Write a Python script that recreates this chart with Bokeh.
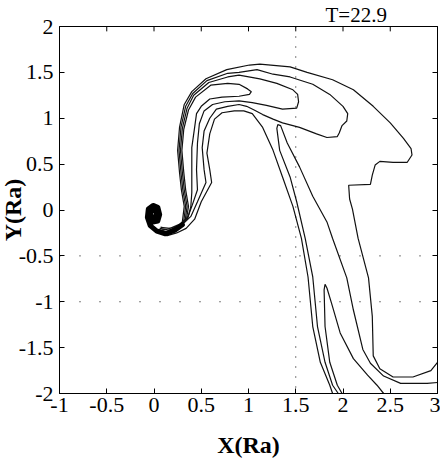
from bokeh.plotting import figure
from bokeh.models import (LinearAxis, FixedTicker, Span, Range1d,
                          CustomJSTickFormatter)
from bokeh.embed import file_html
from bokeh.resources import INLINE

# ---------------- data ----------------
x_ticks = [-1, -0.5, 0, 0.5, 1, 1.5, 2, 2.5, 3]
x_tick_labels = ["-1", "-0.5", "0", "0.5", "1", "1.5", "2", "2.5", "3"]
y_ticks = [-2, -1.5, -1, -0.5, 0, 0.5, 1, 1.5, 2]
y_tick_labels = ["-2", "-1.5", "-1", "-0.5", "0", "0.5", "1", "1.5", "2"]

title_text = "T=22.9"
x_label = "X(Ra)"
y_label = "Y(Ra)"

vline_x = [1.5]
hline_y = [-0.5, -1.0]

# contour A (outermost)
a_x = [0.02, 0.13, 0.23, 0.30, 0.32, 0.29, 0.27, 0.25, 0.27, 0.32, 0.40, 0.55, 0.77, 1.01,
       1.12, 1.44, 1.62, 1.89, 2.11, 2.32, 2.50, 2.64, 2.72, 2.73, 2.68, 2.53, 2.39, 2.34,
       2.31, 2.29, 2.06, 2.07, 2.10, 2.16, 2.27, 2.31, 2.32, 2.39, 2.53, 2.74, 2.93, 3.0]
a_y = [-0.22, -0.26, -0.20, -0.13, 0.04, 0.22, 0.41, 0.65, 0.90, 1.15, 1.29, 1.43, 1.53, 1.58,
       1.59, 1.56, 1.50, 1.42, 1.31, 1.13, 0.95, 0.78, 0.67, 0.60, 0.52, 0.52, 0.53, 0.49,
       0.38, 0.28, 0.27, 0.12, 0.01, -0.31, -0.74, -1.16, -1.59, -1.73, -1.82, -1.82, -1.75, -1.66]

# contour B (big upper lobe, returns on inner side)
b_x = [0.05, 0.15, 0.25, 0.315, 0.335, 0.305, 0.285, 0.265, 0.285, 0.335, 0.41, 0.56, 0.78,
       0.90, 1.09, 1.26, 1.44, 1.68, 1.86, 2.00, 2.05, 2.04, 1.99, 1.96, 1.94, 1.83, 1.72,
       1.54, 1.36, 1.26, 1.15, 1.06, 0.98, 0.90, 0.78, 0.66, 0.59, 0.53, 0.51, 0.53, 0.55,
       0.46, 0.39, 0.30, 0.21, 0.12, 0.04]
b_y = [-0.21, -0.24, -0.19, -0.12, 0.04, 0.22, 0.41, 0.65, 0.90, 1.13, 1.27, 1.41, 1.49,
       1.50, 1.53, 1.48, 1.45, 1.37, 1.26, 1.13, 1.05, 0.97, 0.92, 0.84, 0.80, 0.79, 0.83,
       0.90, 0.95, 0.99, 1.04, 1.09, 1.13, 1.15, 1.13, 1.10, 1.00, 0.86, 0.68, 0.44, 0.30,
       0.09, -0.07, -0.16, -0.21, -0.24, -0.21]

# contour C (middle lobe)
c_x = [0.06, 0.16, 0.26, 0.33, 0.35, 0.32, 0.30, 0.28, 0.30, 0.35, 0.42, 0.58, 0.78,
       0.90, 1.12, 1.30, 1.47, 1.52, 1.53, 1.51, 1.36, 1.19, 1.04, 0.90,
       0.75, 0.62, 0.53, 0.48, 0.46, 0.45, 0.46, 0.40, 0.35, 0.27, 0.18, 0.08]
c_y = [-0.20, -0.22, -0.17, -0.11, 0.04, 0.22, 0.41, 0.65, 0.89, 1.11, 1.25, 1.39, 1.45,
       1.47, 1.43, 1.38, 1.31, 1.26, 1.18, 1.11, 1.10, 1.14, 1.17, 1.19,
       1.18, 1.15, 1.08, 0.94, 0.73, 0.44, 0.22, 0.04, -0.10, -0.18, -0.22, -0.21]

# contour D (small lobe)
d_x = [0.07, 0.17, 0.28, 0.345, 0.365, 0.335, 0.315, 0.295, 0.315, 0.365, 0.44, 0.60, 0.78,
       0.90, 0.99, 1.03, 1.01, 0.90,
       0.72, 0.59, 0.50, 0.45, 0.43, 0.40, 0.40, 0.40, 0.39, 0.36, 0.27, 0.16, 0.07]
d_y = [-0.19, -0.20, -0.15, -0.09, 0.04, 0.22, 0.41, 0.65, 0.88, 1.09, 1.23, 1.36, 1.38,
       1.37, 1.32, 1.29, 1.26, 1.24,
       1.23, 1.21, 1.13, 1.05, 0.90, 0.68, 0.44, 0.19, 0.04, -0.08, -0.17, -0.20, -0.19]

# contour E (inner arc down to the bottom)
e_x = [1.89, 1.86, 1.76, 1.68, 1.63, 1.56, 1.47, 1.36, 1.26, 1.15, 1.04, 0.95, 0.85, 0.72,
       0.64, 0.59, 0.56, 0.59, 0.61, 0.50, 0.43, 0.34, 0.24, 0.14, 0.05]
e_y = [-2.0, -1.91, -1.66, -1.27, -0.73, -0.31, 0.04, 0.36, 0.65, 0.90, 1.05, 1.08, 1.08, 1.06,
       0.99, 0.83, 0.62, 0.44, 0.30, 0.09, -0.10, -0.20, -0.25, -0.28, -0.25]

# contour F (upper fold)
f_x = [1.95, 1.89, 1.81, 1.73, 1.68, 1.60, 1.51, 1.44, 1.33, 1.30, 1.31, 1.34, 1.41, 1.54,
       1.68, 1.83, 1.89, 2.04, 2.11, 2.21, 2.29, 2.43, 2.61, 2.89, 3.0]
f_y = [-2.0, -1.91, -1.66, -1.27, -0.73, -0.31, 0.09, 0.36, 0.65, 0.89, 0.93, 0.92, 0.73, 0.47,
       0.15, -0.13, -0.31, -0.74, -1.09, -1.52, -1.67, -1.81, -1.89, -1.89, -1.88]

# contour G (lower fold)
g_x = [1.99, 1.94, 1.86, 1.81, 1.80, 1.81, 1.83, 1.88, 1.97, 2.11, 2.26, 2.36, 2.43]
g_y = [-2.0, -1.91, -1.66, -1.27, -0.87, -0.81, -0.85, -1.02, -1.34, -1.62, -1.80, -1.91, -2.0]

# dense core (spiral)
sp_x = [0.30, 0.22, 0.12, 0.03, -0.04, -0.07, -0.06, -0.01, 0.04, 0.06, 0.04, -0.01, -0.04,
        -0.03, 0.01, 0.03, 0.0]
sp_y = [-0.16, -0.22, -0.26, -0.23, -0.17, -0.08, 0.01, 0.05, 0.03, -0.05, -0.12, -0.13, -0.07,
        -0.01, 0.0, -0.05, -0.08]

contours_x = [a_x, b_x, c_x, d_x, e_x, f_x, g_x]
contours_y = [a_y, b_y, c_y, d_y, e_y, f_y, g_y]

# ---------------- figure ----------------
SERIF = "Liberation Serif"
Y_MAX = 2.0
TICK_LEN = 0.053   # inward tick length on the top edge (data units, ~5px)

p = figure(width=444, height=460, x_range=Range1d(-1, 3), y_range=Range1d(-2, 2),
           output_backend="svg", toolbar_location=None,
           min_border_left=61, min_border_right=3, min_border_top=24, min_border_bottom=61)
p.styles = {"margin-left": "-4px"}
p.background_fill_color = "white"
p.border_fill_color = "white"
p.outline_line_color = "black"
p.outline_line_width = 1
p.xgrid.visible = False
p.ygrid.visible = False

p.title.text = title_text
p.title.text_font = SERIF
p.title.text_font_size = "21px"
p.title.text_font_style = "normal"
p.title.text_color = "black"
p.title.align = "left"
p.title.offset = 266
p.title.standoff = 0

p.xaxis.ticker = FixedTicker(ticks=x_ticks)
p.xaxis.major_label_overrides = dict(zip(x_ticks, x_tick_labels))
p.yaxis.ticker = FixedTicker(ticks=y_ticks)
p.yaxis.major_label_overrides = dict(zip(y_ticks, y_tick_labels))
p.xaxis.axis_label = x_label
p.yaxis.axis_label = y_label
for ax in (p.xaxis, p.yaxis):
    ax.major_tick_in = 5
    ax.major_tick_out = 0
    ax.minor_tick_line_color = None
    ax.axis_line_color = "black"
    ax.major_tick_line_color = "black"
    ax.major_label_text_font = SERIF
    ax.major_label_text_font_size = "22px"
    ax.major_label_text_color = "black"
    ax.axis_label_text_font = SERIF
    ax.axis_label_text_font_style = "bold"
    ax.axis_label_text_font_size = "24px"
    ax.axis_label_text_color = "black"
p.xaxis.major_label_standoff = 4
p.xaxis.axis_label_standoff = 17
p.yaxis.major_label_standoff = 6
p.yaxis.axis_label_standoff = -10

blank = CustomJSTickFormatter(code="return ''")
right_ax = LinearAxis(ticker=FixedTicker(ticks=y_ticks), formatter=blank,
                      major_tick_in=5, major_tick_out=0, minor_tick_line_color=None,
                      major_label_standoff=0, major_label_text_font_size="1px")
p.add_layout(right_ax, "right")

# inward ticks on the top edge
p.segment(x0=x_ticks, y0=[Y_MAX] * len(x_ticks), x1=x_ticks,
          y1=[Y_MAX - TICK_LEN] * len(x_ticks), line_color="black", line_width=1)

for xv in vline_x:
    p.add_layout(Span(location=xv, dimension="height", line_color="black",
                      line_width=1, line_dash="1 9"))
for yv in hline_y:
    p.add_layout(Span(location=yv, dimension="width", line_color="black",
                      line_width=1, line_dash="1 19"))

p.multi_line(xs=contours_x, ys=contours_y, line_color="#111111", line_width=1.2)
p.line(sp_x, sp_y, line_color="black", line_width=5, line_join="round", line_cap="round")

open("out.html", "w").write(file_html(p, INLINE))
